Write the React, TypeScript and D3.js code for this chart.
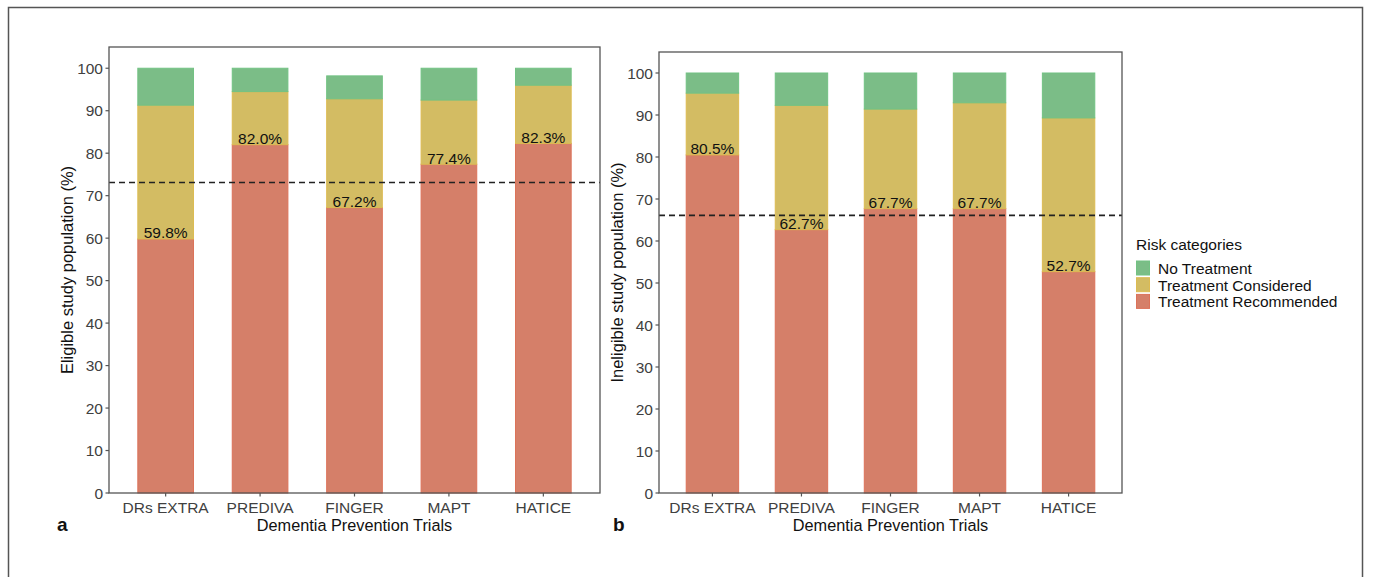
import * as d3 from 'd3';
import { useEffect, useRef } from 'react';

const trials = ['DRs EXTRA', 'PREDIVA', 'FINGER', 'MAPT', 'HATICE'];
const categories = ['Treatment Recommended', 'Treatment Considered', 'No Treatment'];

// panel a: eligible population (%)
const eligibleRecommended = [59.8, 82.0, 67.2, 77.4, 82.3];
const eligibleConsidered = [31.5, 12.5, 25.6, 15.1, 13.7];
const eligibleNone = [8.7, 5.5, 5.4, 7.5, 4.0];
const eligibleRef = 73.1;

// panel b: ineligible population (%)
const ineligibleRecommended = [80.5, 62.7, 67.7, 67.7, 52.7];
const ineligibleConsidered = [14.7, 29.6, 23.7, 25.2, 36.6];
const ineligibleNone = [4.8, 7.7, 8.6, 7.1, 10.7];
const ineligibleRef = 66.1;

const yTicks = [0, 10, 20, 30, 40, 50, 60, 70, 80, 90, 100];

const fills: Record<string, string> = {
    'No Treatment': '#7bbd87',
    'Treatment Considered': '#d3bc63',
    'Treatment Recommended': '#d57f69',
};
const strokes: Record<string, string> = {
    'No Treatment': '#72c283',
    'Treatment Considered': '#dcbb52',
    'Treatment Recommended': '#dc7259',
};

const FONT = 'Liberation Sans, Arial, sans-serif';

const App = () => {
    const svgRef = useRef<SVGSVGElement>(null);

    useEffect(() => {
        const svg = d3.select(svgRef.current);
        svg.selectAll('*').remove();

        // outer frame
        svg.append('rect')
            .attr('x', 8.5)
            .attr('y', 7.5)
            .attr('width', 1354)
            .attr('height', 600)
            .attr('fill', 'none')
            .attr('stroke', '#555')
            .attr('stroke-width', 1.5);

        const drawPanel = (
            box: { left: number; right: number; top: number; bottom: number },
            rec: number[],
            con: number[],
            none: number[],
            refLine: number,
            yTitle: string,
            letter: string,
            letterX: number
        ) => {
            const x = d3.scaleBand().domain(trials).range([box.left, box.right]).paddingInner(0.4).paddingOuter(0.3);
            const y = d3.scaleLinear().domain([0, 105]).range([box.bottom, box.top]);
            const g = svg.append('g');

            const rows = trials.map((t, i) => ({
                trial: t,
                'Treatment Recommended': rec[i],
                'Treatment Considered': con[i],
                'No Treatment': none[i],
            }));
            const series = d3.stack<any>().keys(categories)(rows);

            series.forEach((s) => {
                g.selectAll(null)
                    .data(s)
                    .enter()
                    .append('rect')
                    .attr('x', (d: any) => x(d.data.trial)! + 0.5)
                    .attr('width', x.bandwidth() - 1)
                    .attr('y', (d: any) => y(d[1]))
                    .attr('height', (d: any) => y(d[0]) - y(d[1]))
                    .attr('fill', fills[s.key])
                    .attr('stroke', strokes[s.key])
                    .attr('stroke-width', 1);
            });

            // percentage labels on top of red segment
            g.selectAll(null)
                .data(rows)
                .enter()
                .append('text')
                .attr('x', (d) => x(d.trial)! + x.bandwidth() / 2)
                .attr('y', (d) => y(d['Treatment Recommended']) - 0.5)
                .attr('text-anchor', 'middle')
                .attr('font-family', FONT)
                .attr('font-size', 15.5)
                .attr('fill', '#111')
                .text((d) => d['Treatment Recommended'].toFixed(1) + '%');

            // reference dashed line
            g.append('line')
                .attr('x1', box.left)
                .attr('x2', box.right)
                .attr('y1', y(refLine))
                .attr('y2', y(refLine))
                .attr('stroke', '#222')
                .attr('stroke-width', 1.6)
                .attr('stroke-dasharray', '6,4');

            // panel border
            g.append('rect')
                .attr('x', box.left)
                .attr('y', box.top)
                .attr('width', box.right - box.left)
                .attr('height', box.bottom - box.top)
                .attr('fill', 'none')
                .attr('stroke', '#555')
                .attr('stroke-width', 1.3);

            // y axis
            const ya = g.append('g');
            yTicks.forEach((t) => {
                ya.append('line')
                    .attr('x1', box.left - 3.5)
                    .attr('x2', box.left)
                    .attr('y1', y(t))
                    .attr('y2', y(t))
                    .attr('stroke', '#555')
                    .attr('stroke-width', 1.2);
                ya.append('text')
                    .attr('x', box.left - 6)
                    .attr('y', y(t) + 5.5)
                    .attr('text-anchor', 'end')
                    .attr('font-family', FONT)
                    .attr('font-size', 15.5)
                    .attr('fill', '#404040')
                    .text(t);
            });

            // x axis
            trials.forEach((t) => {
                const cx = x(t)! + x.bandwidth() / 2;
                g.append('line')
                    .attr('x1', cx)
                    .attr('x2', cx)
                    .attr('y1', box.bottom)
                    .attr('y2', box.bottom + 3.5)
                    .attr('stroke', '#555')
                    .attr('stroke-width', 1.2);
                g.append('text')
                    .attr('x', cx)
                    .attr('y', box.bottom + 19.5)
                    .attr('text-anchor', 'middle')
                    .attr('font-family', FONT)
                    .attr('font-size', 15.5)
                    .attr('fill', '#404040')
                    .text(t);
            });

            g.append('text')
                .attr('x', (box.left + box.right) / 2)
                .attr('y', box.bottom + 38)
                .attr('text-anchor', 'middle')
                .attr('font-family', FONT)
                .attr('font-size', 16.3)
                .attr('fill', '#111')
                .text('Dementia Prevention Trials');

            g.append('text')
                .attr('transform', `translate(${box.left - 36},${(box.top + box.bottom) / 2}) rotate(-90)`)
                .attr('text-anchor', 'middle')
                .attr('font-family', FONT)
                .attr('font-size', 16.5)
                .attr('fill', '#111')
                .text(yTitle);

            g.append('text')
                .attr('x', letterX)
                .attr('y', 531)
                .attr('font-family', FONT)
                .attr('font-weight', 'bold')
                .attr('font-size', 19)
                .attr('fill', '#111')
                .text(letter);
        };

        drawPanel(
            { left: 109, right: 600, top: 47, bottom: 493 },
            eligibleRecommended,
            eligibleConsidered,
            eligibleNone,
            eligibleRef,
            'Eligible study population (%)',
            'a',
            57
        );
        drawPanel(
            { left: 659, right: 1122, top: 52, bottom: 493 },
            ineligibleRecommended,
            ineligibleConsidered,
            ineligibleNone,
            ineligibleRef,
            'Ineligible study population (%)',
            'b',
            613
        );

        // legend
        const legend = svg.append('g');
        legend
            .append('text')
            .attr('x', 1136)
            .attr('y', 250)
            .attr('font-family', FONT)
            .attr('font-size', 15.5)
            .attr('fill', '#111')
            .text('Risk categories');
        const legendKeys = ['No Treatment', 'Treatment Considered', 'Treatment Recommended'];
        legendKeys.forEach((k, i) => {
            const ky = 261 + i * 16.7;
            legend
                .append('rect')
                .attr('x', 1136.5)
                .attr('y', ky)
                .attr('width', 13)
                .attr('height', 14)
                .attr('fill', fills[k])
                .attr('stroke', strokes[k])
                .attr('stroke-width', 1);
            legend
                .append('text')
                .attr('x', 1158)
                .attr('y', ky + 13)
                .attr('font-family', FONT)
                .attr('font-size', 15.5)
                .attr('fill', '#111')
                .text(k);
        });
    }, []);

    return (
        <svg
            ref={svgRef}
            width={1375}
            height={577}
            style={{ position: 'absolute', left: 0, top: 0, background: '#fff' }}
        />
    );
};

export default App;
